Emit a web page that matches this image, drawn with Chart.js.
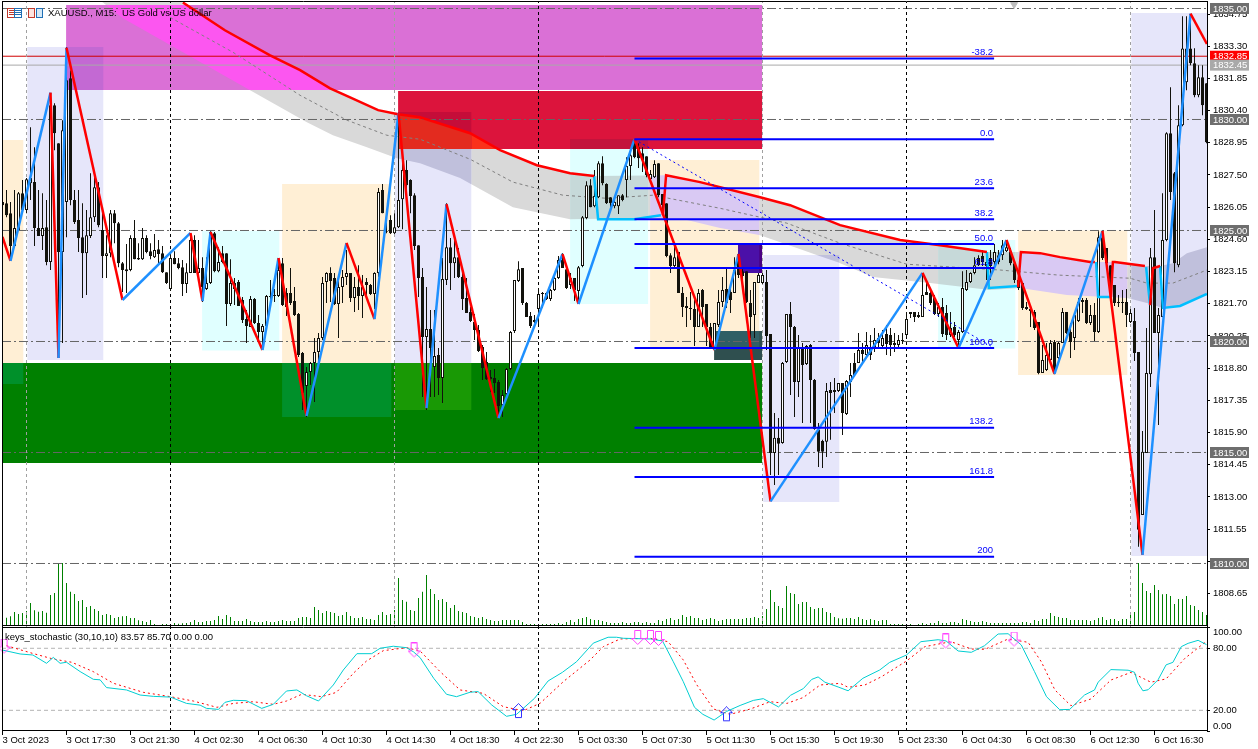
<!DOCTYPE html>
<html><head><meta charset="utf-8"><style>html,body{margin:0;padding:0;background:#fff}canvas{display:block}</style>
<script src="https://cdn.jsdelivr.net/npm/chart.js@4/dist/chart.umd.min.js"></script></head>
<body><canvas id="c" width="1258" height="749"></canvas>
<script>
const barOpen=[1826.28,1826.23,1825.78,1824.30,1825.02,1826.68,1825.92,1827.13,1827.18,1825.11,1824.75,1825.15,1823.58,1830.64,1828.93,1824.03,1826.28,1831.86,1826.37,1825.47,1824.70,1823.98,1824.75,1825.60,1826.95,1825.02,1823.85,1823.98,1825.78,1825.33,1823.53,1823.17,1823.22,1824.66,1823.76,1823.71,1824.66,1824.07,1823.80,1824.16,1823.98,1823.12,1822.36,1823.76,1823.53,1823.35,1822.59,1823.08,1824.57,1823.08,1823.31,1822.36,1822.63,1824.88,1823.17,1823.98,1823.98,1821.69,1822.63,1822.68,1821.87,1821.01,1820.65,1821.91,1820.83,1820.43,1820.70,1822.05,1822.05,1822.05,1823.53,1822.18,1822.18,1821.82,1821.24,1819.48,1817.99,1818.63,1819.03,1819.53,1820.16,1822.68,1823.08,1822.86,1821.69,1822.45,1822.90,1823.08,1821.96,1822.45,1822.05,1822.68,1822.54,1822.14,1823.08,1826.82,1824.93,1825.47,1824.88,1825.15,1826.41,1827.72,1827.27,1826.59,1824.34,1822.90,1820.20,1820.56,1818.85,1819.39,1818.36,1822.77,1824.25,1823.53,1823.80,1822.90,1821.96,1821.33,1820.88,1820.52,1819.75,1819.08,1818.40,1818.36,1818.18,1817.14,1817.64,1818.76,1820.47,1822.72,1823.31,1821.73,1821.15,1820.97,1821.46,1822.14,1822.18,1821.91,1822.32,1822.86,1823.67,1823.26,1822.54,1822.86,1822.27,1823.40,1825.56,1827.04,1826.09,1826.50,1828.03,1827.09,1826.50,1826.09,1826.09,1826.59,1827.27,1827.90,1828.93,1828.75,1828.48,1828.35,1827.31,1827.40,1828.03,1826.64,1826.23,1823.89,1823.40,1824.03,1822.18,1821.60,1821.46,1821.46,1820.65,1822.32,1821.69,1820.65,1819.75,1820.74,1821.78,1822.36,1822.23,1822.18,1823.94,1823.17,1823.17,1821.73,1821.19,1822.63,1822.63,1822.68,1820.34,1814.98,1815.66,1815.43,1819.08,1821.24,1820.65,1818.18,1819.71,1818.99,1819.84,1818.27,1816.02,1815.52,1815.48,1817.82,1817.82,1817.77,1818.13,1816.73,1818.18,1819.03,1819.03,1819.62,1819.39,1819.75,1819.75,1820.16,1819.80,1820.34,1820.29,1819.93,1819.84,1820.07,1820.29,1821.33,1821.33,1821.19,1821.10,1822.23,1822.18,1821.96,1821.24,1821.55,1821.28,1820.29,1820.65,1820.07,1820.43,1822.32,1822.68,1823.08,1823.76,1823.85,1823.40,1823.76,1823.58,1823.89,1823.89,1824.07,1824.07,1823.53,1822.77,1822.63,1821.55,1821.46,1821.33,1820.88,1818.58,1818.72,1819.17,1819.98,1819.26,1819.93,1821.33,1820.43,1820.16,1820.92,1821.87,1821.87,1820.83,1821.19,1820.43,1824.70,1824.21,1823.44,1822.54,1821.73,1821.78,1821.78,1820.88,1820.92,1819.53,1812.19,1814.98,1818.53,1823.80,1820.38,1821.10,1824.57,1829.38,1827.58,1823.44,1829.74,1831.68,1833.20,1832.53,1831.09,1831.90,1831.63];
const barHigh=[1826.82,1826.82,1826.28,1826.82,1826.73,1827.27,1827.36,1829.65,1828.75,1826.82,1826.68,1826.37,1830.73,1830.73,1828.93,1829.97,1833.25,1832.21,1826.82,1826.82,1826.23,1825.92,1827.58,1827.58,1827.18,1825.92,1824.79,1825.92,1825.92,1825.38,1823.58,1824.39,1824.79,1825.47,1824.43,1825.11,1824.79,1824.43,1824.84,1824.57,1824.30,1823.12,1823.98,1824.07,1823.76,1823.67,1823.53,1824.84,1824.79,1824.57,1823.80,1823.80,1824.97,1824.93,1824.25,1824.30,1823.98,1823.71,1822.86,1822.77,1822.00,1821.42,1822.05,1821.96,1821.19,1820.79,1822.09,1822.77,1822.36,1823.76,1823.76,1822.41,1823.31,1822.45,1821.28,1819.53,1818.85,1819.08,1820.16,1820.38,1822.90,1823.12,1823.35,1823.08,1822.90,1823.22,1824.12,1823.08,1822.90,1823.44,1822.99,1822.86,1822.59,1823.12,1826.91,1827.09,1825.78,1825.69,1825.78,1830.28,1828.17,1828.17,1827.31,1826.68,1824.34,1823.31,1822.45,1821.42,1821.42,1819.71,1823.76,1826.23,1824.66,1824.57,1824.21,1823.08,1822.86,1821.55,1821.24,1820.74,1819.84,1819.53,1818.72,1818.76,1818.27,1817.82,1818.81,1820.47,1822.77,1823.62,1823.31,1821.78,1821.33,1821.19,1822.41,1822.23,1822.23,1822.36,1823.08,1823.85,1823.98,1823.35,1823.08,1822.86,1823.40,1825.65,1827.22,1827.31,1827.72,1828.12,1828.35,1827.13,1826.50,1826.50,1826.59,1826.64,1828.30,1828.62,1829.11,1828.93,1828.75,1828.35,1827.72,1828.17,1828.03,1826.64,1826.23,1823.98,1824.43,1824.03,1822.45,1822.00,1822.23,1821.87,1822.36,1822.36,1821.69,1820.83,1820.83,1822.32,1822.90,1823.31,1822.63,1823.80,1823.94,1823.26,1823.17,1822.32,1822.68,1823.08,1823.08,1823.22,1820.34,1816.78,1816.55,1819.08,1821.24,1821.78,1820.70,1820.29,1819.93,1819.84,1819.89,1818.31,1816.33,1815.57,1818.13,1818.18,1818.36,1818.13,1818.13,1818.27,1819.03,1819.48,1820.38,1819.93,1820.43,1820.29,1820.61,1820.38,1820.52,1820.74,1820.61,1820.38,1820.29,1820.38,1821.33,1821.33,1821.33,1821.33,1823.08,1822.63,1822.32,1822.09,1821.73,1821.96,1821.64,1821.33,1820.88,1820.52,1823.17,1823.22,1823.12,1823.80,1823.89,1824.12,1823.85,1824.12,1824.39,1824.12,1824.57,1824.57,1824.21,1823.58,1823.22,1822.63,1821.78,1821.64,1821.42,1820.88,1819.84,1819.93,1820.07,1820.07,1819.98,1821.51,1821.33,1820.83,1821.28,1821.96,1821.96,1821.96,1821.64,1821.73,1824.97,1824.97,1824.21,1823.44,1822.54,1822.09,1822.32,1822.36,1821.46,1821.51,1819.53,1815.97,1820.61,1824.21,1825.92,1821.51,1826.68,1829.43,1831.45,1827.63,1830.64,1834.65,1834.65,1834.74,1833.21,1832.44,1832.44,1831.63];
const barLow=[1825.69,1825.60,1823.80,1824.30,1825.02,1825.92,1825.78,1826.37,1824.30,1824.75,1824.12,1823.44,1823.22,1828.62,1819.26,1819.93,1824.70,1826.14,1825.29,1824.03,1821.96,1822.09,1824.66,1825.38,1825.15,1822.86,1822.86,1823.80,1824.43,1823.35,1822.23,1822.18,1823.17,1823.71,1823.67,1823.67,1823.98,1823.71,1823.76,1823.48,1823.08,1822.59,1822.27,1823.48,1823.26,1822.05,1822.18,1823.08,1823.08,1823.03,1821.78,1822.32,1822.59,1823.12,1823.12,1823.53,1820.70,1821.60,1821.64,1821.60,1820.83,1819.93,1820.65,1820.79,1820.07,1819.62,1820.65,1821.87,1821.78,1822.00,1821.60,1821.15,1821.64,1821.15,1819.30,1816.92,1816.60,1818.04,1817.28,1819.03,1820.07,1821.73,1821.78,1821.64,1820.16,1821.73,1822.54,1821.78,1821.33,1821.42,1821.06,1822.09,1822.09,1821.46,1822.90,1825.78,1824.88,1824.84,1824.84,1825.11,1825.06,1826.59,1825.78,1824.12,1822.00,1817.50,1816.92,1817.50,1817.50,1817.59,1817.23,1822.54,1822.32,1822.86,1822.86,1821.42,1821.28,1820.88,1820.07,1819.53,1818.27,1818.27,1817.73,1817.68,1816.69,1816.60,1817.59,1818.72,1820.38,1822.68,1821.64,1821.10,1820.61,1820.83,1820.79,1821.51,1821.87,1821.82,1822.27,1822.81,1823.31,1822.36,1822.36,1821.82,1821.73,1823.35,1825.51,1826.05,1826.05,1826.46,1827.04,1826.19,1826.05,1826.00,1825.74,1826.32,1826.50,1827.27,1828.26,1827.81,1827.63,1827.40,1827.27,1827.36,1826.50,1825.69,1823.80,1823.08,1823.35,1822.18,1821.10,1820.65,1820.97,1819.80,1820.65,1820.65,1819.80,1819.71,1819.62,1820.65,1821.55,1821.51,1821.28,1822.18,1822.86,1822.63,1821.73,1820.16,1820.16,1822.63,1822.59,1819.62,1813.99,1813.54,1813.99,1815.39,1819.03,1817.59,1816.60,1817.50,1816.33,1818.94,1816.33,1816.02,1814.35,1814.30,1814.80,1815.57,1816.78,1817.73,1815.79,1816.69,1817.50,1818.45,1819.03,1819.03,1819.35,1819.17,1819.53,1819.75,1819.75,1819.39,1819.35,1819.53,1819.75,1819.89,1820.20,1821.06,1820.88,1821.06,1821.10,1822.09,1821.64,1821.19,1821.10,1820.20,1820.07,1820.20,1820.20,1819.71,1820.38,1822.27,1822.63,1823.03,1823.40,1823.40,1822.77,1822.77,1823.44,1823.48,1823.67,1824.03,1823.44,1822.63,1822.32,1821.42,1821.42,1820.65,1820.52,1818.53,1818.58,1818.67,1819.08,1818.53,1819.21,1819.93,1820.34,1819.26,1819.62,1820.88,1821.28,1820.79,1820.74,1820.02,1820.38,1823.67,1823.44,1822.00,1821.60,1821.55,1821.28,1820.65,1820.83,1819.12,1810.75,1812.19,1814.98,1817.95,1820.38,1816.24,1821.10,1824.52,1826.37,1823.12,1823.35,1829.70,1831.32,1832.44,1831.00,1831.00,1830.19,1828.93];
const barClose=[1826.14,1825.69,1824.30,1825.11,1826.68,1825.92,1827.31,1827.36,1825.11,1824.75,1825.11,1823.58,1830.64,1829.38,1824.03,1829.52,1831.77,1826.37,1825.38,1824.66,1823.98,1824.79,1825.60,1826.95,1825.24,1823.85,1823.98,1825.78,1825.33,1823.53,1823.22,1823.26,1824.66,1823.71,1823.69,1824.66,1824.03,1823.85,1824.12,1823.94,1823.12,1822.63,1823.76,1823.48,1823.31,1822.59,1823.12,1824.57,1823.08,1823.31,1822.45,1822.63,1824.93,1823.17,1823.58,1823.58,1821.69,1822.63,1822.36,1821.60,1820.97,1820.70,1821.91,1820.83,1820.43,1820.70,1822.05,1822.00,1822.09,1823.22,1821.64,1821.55,1821.73,1821.19,1819.39,1817.68,1818.63,1819.03,1819.53,1820.16,1822.63,1823.08,1822.72,1821.69,1822.45,1822.90,1823.08,1821.96,1822.45,1822.05,1822.45,1822.54,1822.14,1823.08,1826.73,1825.78,1824.97,1824.88,1825.15,1826.37,1827.72,1827.04,1826.55,1824.30,1822.86,1820.20,1820.56,1819.71,1819.35,1818.36,1822.81,1824.25,1823.53,1823.80,1822.90,1821.91,1821.28,1820.92,1820.52,1819.57,1818.81,1818.31,1818.31,1818.13,1817.10,1817.59,1818.76,1820.43,1822.77,1823.26,1821.73,1821.10,1820.70,1820.88,1822.14,1822.18,1821.91,1822.32,1822.86,1823.67,1823.31,1822.41,1822.86,1822.32,1823.35,1825.60,1827.04,1826.05,1826.55,1828.03,1827.13,1826.23,1826.23,1826.28,1826.59,1826.37,1827.90,1828.39,1828.30,1828.26,1828.17,1827.49,1827.54,1827.99,1826.59,1826.14,1823.85,1823.40,1823.80,1822.18,1821.55,1821.51,1821.51,1820.65,1822.18,1821.55,1820.65,1819.75,1820.83,1821.78,1822.32,1821.73,1821.87,1823.22,1822.99,1822.95,1821.78,1821.10,1822.68,1822.99,1822.99,1820.25,1814.98,1815.66,1815.39,1819.03,1821.24,1820.65,1818.18,1819.75,1818.94,1819.80,1818.27,1816.06,1815.03,1815.03,1817.77,1817.68,1817.73,1818.13,1816.78,1818.22,1818.49,1818.49,1819.62,1819.44,1819.84,1819.39,1820.07,1819.93,1820.16,1819.89,1819.84,1819.84,1820.07,1820.02,1821.01,1821.24,1821.10,1821.10,1822.09,1822.09,1821.73,1821.24,1821.55,1820.34,1820.29,1820.61,1820.29,1820.43,1822.41,1822.68,1823.08,1823.44,1823.44,1823.58,1823.58,1823.40,1824.03,1823.58,1824.34,1824.25,1823.53,1822.77,1822.41,1821.51,1821.46,1821.37,1820.61,1818.58,1819.17,1819.39,1819.93,1818.58,1819.93,1821.33,1820.38,1819.98,1821.19,1821.78,1821.78,1820.83,1821.19,1820.43,1824.70,1823.76,1823.53,1822.54,1821.73,1821.78,1821.73,1821.19,1821.28,1819.48,1811.52,1815.03,1818.58,1823.80,1820.38,1821.19,1824.57,1829.38,1826.73,1823.53,1829.74,1833.20,1833.20,1832.53,1831.09,1831.90,1830.64,1828.98];
const volume=[30,22,26,39,33,36,42,66,44,40,42,37,90,96,186,186,126,100,93,72,75,54,57,48,42,30,33,30,21,24,26,27,21,21,14,12,9,15,3,0,3,3,3,6,4,5,6,9,15,9,9,12,12,15,27,18,30,24,12,12,12,18,12,9,9,9,12,9,9,12,15,12,12,12,21,24,24,21,54,45,36,42,39,36,27,30,39,27,21,21,24,18,18,15,30,39,30,33,45,141,75,70,45,42,81,100,150,108,93,75,78,69,51,60,42,39,36,27,24,21,24,18,15,12,12,15,15,15,15,15,9,3,3,3,3,3,3,3,3,6,3,9,15,9,18,21,24,18,15,15,12,9,6,6,6,9,6,6,9,9,6,9,6,6,15,12,18,21,15,18,30,24,27,21,21,15,18,21,18,12,15,18,18,18,18,18,21,21,24,21,27,48,105,69,57,51,117,96,93,63,69,69,54,48,51,51,39,36,24,20,19,21,21,18,24,18,15,18,15,12,15,15,3,3,3,3,3,3,0,3,6,3,6,6,12,6,6,9,9,6,18,15,12,9,9,12,9,6,6,6,6,6,6,6,6,9,9,6,15,12,18,18,36,27,24,21,21,15,15,15,15,15,12,15,21,24,15,18,18,12,18,18,36,39,186,126,102,96,120,105,92,93,87,63,78,78,87,60,57,45,39,30];
const zigzagBar=[0,2,12,14,16,30,47,50,52,65,69,76,86,93,99,106,111,124,140,144,158,178,184,192,230,239,251,263,275,285,297,301.1];
const zigzagPrice=[1824.71,1823.63,1831.21,1819.26,1833.23,1821.87,1824.89,1821.82,1824.93,1819.62,1823.76,1816.64,1824.44,1821.01,1830.29,1817.0,1826.19,1816.55,1823.94,1821.69,1829.12,1819.62,1823.94,1812.8,1823.09,1819.71,1824.57,1818.54,1824.98,1810.39,1834.77,1833.4];
const bandUpperBar=[24.4,45.1,55.6,66.9,74.4,81.9,86.9,93.9,98.9,104.4,116.9,124.4,133.6,141.9,147.9,165.9,174.4,189.4,196.9,209.4,224.4,234.4,246.1,254.6,259.4,264.4,271.9,278.1,285.6,289.4,292.6,296.1,301.1];
const bandUpperPrice=[1838.07,1835.27,1834.02,1832.89,1832.22,1831.40,1831.0,1830.42,1830.24,1830.10,1829.38,1828.62,1827.94,1827.58,1827.45,1827.49,1827.18,1826.5,1826.14,1825.24,1824.57,1824.34,1824.03,1824.03,1823.98,1823.8,1823.58,1823.58,1823.4,1823.4,1823.53,1823.98,1824.25];
const bandLowerBar=[24.4,30.1,61.9,76.1,82.6,91.1,98.6,104.4,114.4,127.6,141.9,161.9,171.1,179.4,189.4,198.6,209.4,217.6,231.9,246.9,254.4,266.1,281.1,286.1,290.1,294.4,301.1];
const bandLowerPrice=[1835.37,1834.56,1831.32,1829.88,1829.29,1828.75,1828.26,1828.03,1827.36,1826.05,1825.51,1825.56,1825.47,1825.11,1824.79,1824.21,1823.53,1822.9,1822.63,1822.32,1822.41,1822.09,1821.96,1821.73,1821.51,1821.6,1822.14];
const midBar=[41.9,57.6,74.4,86.1,96.1,104.4,116.9,127.6,140.1,151.1,162.6,179.4,196.1,209.4,226.1,249.4,264.1,281.9,286.1,292.6,301.1];
const midPrice=[1834.6,1833.03,1831.09,1829.97,1829.29,1829.11,1828.21,1827.18,1826.59,1826.45,1826.59,1826.0,1825.33,1824.43,1823.48,1823.22,1822.99,1822.85,1822.63,1822.63,1823.22];
const trendRedBar=[45.1,55.6,66.9,74.4,81.9,86.9,93.9,98.9,104.4,116.9,124.4,133.6,141.9,147.9,147.95,165.1,165.9,174.4,189.4,196.9,209.4,224.4,234.4,246.1,246.15,253.9,254.6,259.4,264.4,271.9,273.1,273.15,277.1,277.6,278.1,285.6,285.65,286.9,287.6,289.4];
const trendRedPrice=[1835.27,1834.02,1832.89,1832.22,1831.40,1831.0,1830.42,1830.24,1830.10,1829.38,1828.62,1827.94,1827.58,1827.45,null,1825.69,1827.49,1827.18,1826.5,1826.14,1825.24,1824.57,1824.34,1824.03,null,1822.45,1824.03,1823.98,1823.8,1823.58,1823.58,null,1822.0,1823.58,1823.58,1823.4,null,1821.64,1823.3,1823.4];
const trendCyanBar=[147.9,148.9,157.9,164.6,164.7,246.1,246.6,253.9,254,273.4,273.9,277.1,277.2,285.9,286.9,287,289.4,290.1,294.4,301.1];
const trendCyanPrice=[1827.45,1825.51,1825.51,1825.69,null,1824.03,1822.41,1822.5,null,1823.58,1822.0,1822.0,null,1823.35,1821.64,null,1823.4,1821.51,1821.6,1822.14];
const boxLeft=[6.2,98.1,190.2,282.2,-1,69.9,161.9,253.9,49.9,141.9,233.9,15.9,98.9,-1,183.9,177.9];
const boxRight=[25.2,117.2,209.2,302,5.2,97.2,189.2,281.2,69.2,161.4,253.2,189.9,189.9,189.9,189.9,189.9];
const boxTop=[1833.27,1830.34,1823.9,1834.8,1829.08,1827.1,1828.18,1825.0,1824.98,1829.12,1824.57,1835.16,1831.28,1819.03,1824.39,1820.47];
const boxBottom=[1819.17,1816.92,1812.77,1810.34,1818.09,1816.6,1819.71,1818.49,1819.6,1821.69,1819.68,1831.33,1828.67,1814.53,1823.09,1819.17];
const boxColor=['#E6E6FA','#E6E6FA','#E6E6FA','#E6E6FA','#FFEFD5','#FFEFD5','#FFEFD5','#FFEFD5','#E0FFFF','#E0FFFF','#E0FFFF','#DA70D6','#DC143C','#008000','#4B0082','#2F4F4F'];
const boxOverBand=[null,'#C0C0DC','#C0C0DC','#C0C0DC',null,null,'#D9C9F3','#D9C9F3',null,'#C6D9D9','#C6D9D9','#FC56F0','#FA321A',null,null,null];
const mixLeft=[15.9,98.9,141.9,-1,69.9,98.1,183.9,177.9];
const mixRight=[25.2,117.2,161.4,5.2,97.2,117.2,189.2,189.2];
const mixTop=[1833.27,1830.34,1829.12,1819.03,1819.03,1819.03,1824.39,1820.47];
const mixBottom=[1831.33,1828.67,1828.67,1818.09,1816.6,1816.92,1823.09,1819.71];
const mixColor=['#C369D3','#C50D39','#C3143C','#00902A','#00902A','#199905','#4B10A8','#2F5F65'];
const mixOverBand=[null,'#E32B1F',null,null,null,null,null,null];
const fibLevels=['-38.2','0.0','23.6','38.2','50.0','61.8','100.0','138.2','161.8','200'];
const fibPrices=[1832.75,1829.11,1826.90,1825.51,1824.39,1823.31,1819.71,1816.11,1813.90,1810.30];
const fibStartBar=158, fibEndBar=247.9;
const roundLevels=[1835,1830,1825,1820,1815,1810];
const bidPrice=1832.85, askPrice=1832.45;
const priceTicks=[1834.75,1833.30,1831.85,1830.40,1828.95,1827.50,1826.05,1824.60,1823.15,1821.70,1820.25,1818.80,1817.35,1815.90,1814.45,1813.00,1811.55,1810.10,1808.65];
const timeTickBars=[0,16,32,48,64,80,96,112,128,144,160,176,192,208,224,240,256,272,288];
const timeTickLabels=['3 Oct 2023','3 Oct 17:30','3 Oct 21:30','4 Oct 02:30','4 Oct 06:30','4 Oct 10:30','4 Oct 14:30','4 Oct 18:30','4 Oct 22:30','5 Oct 03:30','5 Oct 07:30','5 Oct 11:30','5 Oct 15:30','5 Oct 19:30','5 Oct 23:30','6 Oct 04:30','6 Oct 08:30','6 Oct 12:30','6 Oct 16:30'];
const periodBars=[6,98,190,282];
const dayBars=[42,134,226];
const stochBar=[0,4.4,7.6,11,12.7,14.4,16,19.4,22.7,24.4,26,31,34.4,37.7,42,46,49.4,51,54,55.6,57.7,61,64.8,67.7,71,73.6,76,79,82.7,85.2,88.6,92.3,94.4,97.7,101,102.7,104.4,107.8,111,113.5,116.9,118.9,122.3,126,128.5,133,136.4,140,143.5,147.7,151.4,153.5,155.2,162,165,167.7,170.2,173,175.1,177.9,181,184.4,187.7,190.2,194,197,200.2,202.3,203.9,205.6,208.9,211.4,215.1,219.3,221.8,226,229.6,233.9,235.9,238.9,242.2,245.5,248.9,251.4,254.7,258,261,264.3,266.8,270.5,273,273.9,277.1,281.4,283,283.9,285.1,286.4,288.9,290.9,292.6,294.7,296.4,298.9,301];
const stochValue=[78.3,74.5,73.5,65.5,71.2,65.5,66.5,57.5,50,49.5,42,39.7,34.8,33.5,32.8,26.7,25,21.9,20.9,27.7,29.7,29.3,21.9,25.8,38.7,39.7,34.1,29,44.5,59,74.8,74.8,80,82,80.6,76.7,71,51,35.5,33.2,37.5,38.1,25.2,14.2,16.1,31.6,48.4,56.8,67,85,90.7,90.7,89.7,89,87.1,67,47.7,22.9,16.1,10.6,18.9,24.7,29.6,31.3,23.3,34.5,41,49.9,52.3,47.2,42.6,38.9,51,59,66.4,73.5,86.4,88.3,87.1,77.4,76.1,82.5,93.8,94.1,83.2,57.4,33.2,20.6,20.9,34.8,39.7,47.2,59.4,58.8,56.8,46.2,38.9,39.9,49.6,64,66.4,81.6,84.8,87.7,83.57];
const signalBar=[1,7.6,12.7,17.3,22.7,27.7,35.2,42,47.7,53.6,57.7,62.7,67.7,71,74.8,79.8,83.5,87.7,91,95.2,101,104.4,109.4,114.4,120.2,125.2,130.2,134.4,140.2,146.9,150.2,154.4,161.9,166.4,170.2,173.6,177.8,181.9,186.9,191.9,196.1,200.2,204.4,209.4,211.4,215.6,219.7,226,230.6,237.1,242.2,245.6,251.4,256.4,259.7,263.1,267.1,272.1,277.1,282.1,287.1,290.9,295.6,300.6];
const signalValue=[82.5,75,69.6,66.5,57.4,46.2,37.4,33.2,29,22.9,26.7,28.3,25.8,29,35.5,33.2,37.4,55.8,67.7,77.7,80.6,77.4,57.4,39.7,36.4,23.5,19.6,26.8,47.7,68.7,81.6,89,89.7,86.4,68.7,44.5,21.2,16.1,21.2,28.3,26.7,32.4,44.5,46.1,42.3,44.5,52.4,67.7,81.6,86.4,79.3,79,89,85.8,67,39.7,24.5,31,49.3,56.7,47.2,50.4,70.3,85.7];
const stochLevels=[80,20];
const stochTicks=[100,80,20,0];
const sellArrowBar=[0.4,102.9,158.8,162,164,235.8,252.9];
const sellArrowValue=[81.7,77.9,90,90,89,86.6,88.5];
const buyArrowBar=[129,181];
const buyArrowValue=[19.3,16.2];
const scrollMarkerBar=[252.9], scrollMarkerPrice=[1835.18];

const xMin=-0.125, xMax=301.125, priceMax=1835.2928, priceMin=1807.1396;
const pts=(xs,ys)=>xs.map((x,i)=>({x,y:ys[i]}));
function clipPoly(poly,l,r,t,b){
  const cut=(p,inside,hit)=>{const o=[];p.forEach((c,i)=>{const n=p[(i+1)%p.length];const a=inside(c),d=inside(n);if(a)o.push(c);if(a!==d)o.push(hit(c,n));});return o;};
  const X=v=>(a,c)=>({x:v,y:a.y+(c.y-a.y)*(v-a.x)/(c.x-a.x)});
  const Y=v=>(a,c)=>({x:a.x+(c.x-a.x)*(v-a.y)/(c.y-a.y),y:v});
  let o=poly;
  o=cut(o,q=>q.x>=l,X(l));if(o.length)o=cut(o,q=>q.x<=r,X(r));if(o.length)o=cut(o,q=>q.y<=t,Y(t));if(o.length)o=cut(o,q=>q.y>=b,Y(b));
  return o;
}
function arrow(color,up){
  const c=document.createElement('canvas');c.width=13;c.height=16;const g=c.getContext('2d');
  g.translate(0.5,0.5);if(up){g.translate(0,14);g.scale(1,-1);}
  g.strokeStyle=color;g.lineWidth=1;
  g.beginPath();g.moveTo(3,0);g.lineTo(9,0);g.lineTo(9,8);g.lineTo(12,8);g.lineTo(6,14);g.lineTo(0,8);g.lineTo(3,8);g.closePath();g.stroke();
  return c;
}
const ds=[];
const shape=(data,color)=>ds.push({type:'line',data,yAxisID:'y',fill:'shape',backgroundColor:color,borderWidth:0,pointRadius:0,showLine:true});
const bandPoly=[...pts(bandUpperBar,bandUpperPrice),...pts(bandLowerBar,bandLowerPrice).reverse()];
shape(bandPoly,'#D9D9D9');
boxLeft.forEach((l,i)=>shape([{x:l,y:boxTop[i]},{x:boxRight[i],y:boxTop[i]},{x:boxRight[i],y:boxBottom[i]},{x:l,y:boxBottom[i]}],boxColor[i]));
boxLeft.forEach((l,i)=>{if(boxOverBand[i]){const o=clipPoly(bandPoly,l,boxRight[i],boxTop[i],boxBottom[i]);if(o.length)shape(o,boxOverBand[i]);}});
mixLeft.forEach((l,i)=>{shape([{x:l,y:mixTop[i]},{x:mixRight[i],y:mixTop[i]},{x:mixRight[i],y:mixBottom[i]},{x:l,y:mixBottom[i]}],mixColor[i]);
  if(mixOverBand[i]){const o=clipPoly(bandPoly,l,mixRight[i],mixTop[i],mixBottom[i]);if(o.length)shape(o,mixOverBand[i]);}});
const line=(data,color,width,dash,axis,extra)=>ds.push(Object.assign({type:'line',data,yAxisID:axis||'y',borderColor:color,borderWidth:width,borderDash:dash||[],pointRadius:0,fill:false,tension:0},extra||{}));
ds.push({type:'bar',data:volume.map((v,i)=>({x:i,y:v})),yAxisID:'yVol',backgroundColor:'#008000',borderWidth:0,grouped:false,barPercentage:1,maxBarThickness:1,inflateAmount:0});
roundLevels.forEach(p=>line([{x:xMin,y:p},{x:xMax,y:p}],'#666666',1,[9,3,2,3]));
line([{x:xMin,y:bidPrice},{x:xMax,y:bidPrice}],'#D00000',1);
line([{x:xMin,y:askPrice},{x:xMax,y:askPrice}],'#A9A9A9',1);
periodBars.forEach(b=>line([{x:b,y:priceMin},{x:b,y:priceMax}],'#A0A0A0',1,[3,3]));
dayBars.forEach(b=>{line([{x:b,y:priceMin},{x:b,y:priceMax}],'#000',1,[3,3]);line([{x:b,y:0},{x:b,y:100.6}],'#000',1,[3,3],'yStoch');});
line(pts(midBar,midPrice),'#808080',1,[3,3]);
ds.push({type:'bar',data:barHigh.map((h,i)=>({x:i,y:[barLow[i],h]})),yAxisID:'y',backgroundColor:'#12120c',borderWidth:0,grouped:false,barPercentage:1,maxBarThickness:1,inflateAmount:0});
ds.push({type:'bar',data:barOpen.map((o,i)=>({x:i,y:[o,barClose[i]]})),yAxisID:'y',backgroundColor:barOpen.map((o,i)=>barClose[i]>=o?'#fff':'#12120c'),borderColor:'#12120c',borderWidth:1,borderSkipped:false,grouped:false,barPercentage:1,maxBarThickness:3,inflateAmount:0});
line(pts(trendCyanBar,trendCyanPrice),'#00BFFF',2.5,[],'y',{spanGaps:false});
line(pts(trendRedBar,trendRedPrice),'#FF0000',2.5,[],'y',{spanGaps:false});
line(pts(zigzagBar,zigzagPrice),'#FF0000',2.5,[],'y',{segment:{borderColor:c=>c.p1.parsed.y>c.p0.parsed.y?'#1E90FF':'#FF0000'}});
line([{x:fibStartBar,y:fibPrices[1]},{x:fibEndBar,y:fibPrices[6]}],'#0000FF',1,[2,3]);
fibPrices.forEach(p=>line([{x:fibStartBar,y:p},{x:fibEndBar,y:p}],'#0000FF',2));
ds.push({type:'line',data:pts(scrollMarkerBar,scrollMarkerPrice),yAxisID:'y',showLine:false,pointStyle:'triangle',rotation:180,pointRadius:4,backgroundColor:'#BDBDBD',borderColor:'#BDBDBD',clip:false});
stochLevels.forEach(v=>line([{x:xMin,y:v},{x:xMax,y:v}],'#B4B4B4',1,[4,3],'yStoch'));
line(pts(signalBar,signalValue),'#FF0000',1,[2,3],'yStoch');
line(pts(stochBar,stochValue),'#00CED1',1,[],'yStoch');
ds.push({type:'line',data:pts(sellArrowBar,sellArrowValue),yAxisID:'yStoch',showLine:false,pointStyle:arrow('#FF40FF',false),pointRadius:5,clip:false});
ds.push({type:'line',data:pts(buyArrowBar,buyArrowValue),yAxisID:'yStoch',showLine:false,pointStyle:arrow('#3030FF',true),pointRadius:5,clip:false});
ds.forEach((d,i)=>{d.order=ds.length-i;});

const uiFont='"Liberation Sans"';
const overlay={id:'overlay',afterDraw(ch){
  const g=ch.ctx,y=ch.scales.y,s=ch.scales.yStoch,x=ch.scales.x;g.save();
  g.strokeStyle='#000';g.lineWidth=1;
  const hl=v=>{g.beginPath();g.moveTo(2,v);g.lineTo(1208,v);g.stroke();};
  [1.5,625.5,627.5,730.5].forEach(hl);
  [2.5,1207.5].forEach(v=>{g.beginPath();g.moveTo(v,1);g.lineTo(v,731);g.stroke();});
  g.strokeStyle='#c0392b';g.strokeRect(7.5,8.5,7,9);g.beginPath();for(const t of [10.5,12.5,14.5]){g.moveTo(9,t);g.lineTo(14,t);}g.stroke();
  g.strokeStyle='#1f6fb5';g.strokeRect(14.5,8.5,7,9);g.beginPath();for(const t of [10.5,12.5,14.5]){g.moveTo(15,t);g.lineTo(21,t);}g.stroke();
  g.strokeStyle='#c0392b';g.fillStyle='#fde4df';g.fillRect(28.5,8.5,6,9);g.strokeRect(28.5,8.5,6,9);
  g.strokeStyle='#1f6fb5';g.fillStyle='#d5e9f7';g.fillRect(36.5,8.5,6,9);g.strokeRect(36.5,8.5,6,9);
  g.textBaseline='middle';g.textAlign='left';g.fillStyle='#000';g.font='9.5px '+uiFont;
  g.fillText('XAUUSD., M15:  US Gold vs US dollar',48,13);
  g.fillText('keys_stochastic (30,10,10) 83.57 85.70 0.00 0.00',5,637);
  g.textAlign='right';g.fillStyle='#0000FF';
  fibLevels.forEach((t,i)=>g.fillText(t,x.getPixelForValue(fibEndBar)-1,y.getPixelForValue(fibPrices[i])-6));
  g.textAlign='left';
  const tag=(p,t,c)=>{const py=y.getPixelForValue(p);g.fillStyle=c;g.fillRect(1210,py-5.5,39,11);g.fillStyle='#fff';g.fillText(t,1213,py+.5);};
  roundLevels.forEach(p=>tag(p,p.toFixed(2),'#6E6E6E'));
  tag(bidPrice,bidPrice.toFixed(2),'#FF0000');tag(askPrice,askPrice.toFixed(2),'#A9A9A9');
  g.fillStyle='#000';
  g.fillText('100.00',1213,s.getPixelForValue(100)+5);
  g.fillText('0.00',1213,s.getPixelForValue(0)-5);
  g.restore();
}};
const tickFont={family:uiFont,size:9.5};
const fitRight=s=>{s.width=51;s.paddingTop=0;s.paddingBottom=0;};
new Chart(document.getElementById('c'),{type:'line',data:{datasets:ds},plugins:[overlay],options:{
  responsive:false,animation:false,devicePixelRatio:1,events:[],
  layout:{autoPadding:false,padding:{left:2,top:2,right:0,bottom:0}},
  plugins:{legend:{display:false},tooltip:{enabled:false},title:{display:false}},
  scales:{
    x:{type:'linear',position:'bottom',min:xMin,max:xMax,offset:false,
      afterFit:s=>{s.height=18;s.paddingLeft=0;s.paddingRight=0;},
      afterBuildTicks:s=>{s.ticks=timeTickBars.map(v=>({value:v}));},
      grid:{drawOnChartArea:false,tickLength:4,tickColor:'#000',offset:false},border:{display:false},
      ticks:{autoSkip:false,maxRotation:0,minRotation:0,align:'start',padding:0,color:'#000',font:tickFont,
        callback:v=>timeTickLabels[timeTickBars.indexOf(v)]}},
    y:{type:'linear',position:'right',stack:'panes',stackWeight:625,weight:1,min:priceMin,max:priceMax,
      afterFit:fitRight,
      afterBuildTicks:s=>{s.ticks=priceTicks.map(v=>({value:v}));},
      grid:{drawOnChartArea:false,tickLength:3,tickColor:'#000'},border:{display:false},
      ticks:{autoSkip:false,padding:3,color:'#000',font:tickFont,callback:v=>v.toFixed(2)}},
    yStoch:{type:'linear',position:'right',stack:'panes',stackWeight:104,weight:2,min:0,max:100.6,
      afterFit:fitRight,
      afterBuildTicks:s=>{s.ticks=stochTicks.map(v=>({value:v}));},
      grid:{drawOnChartArea:false,tickLength:3,tickColor:'#000'},border:{display:false},
      ticks:{autoSkip:false,padding:3,color:'#000',font:tickFont,callback:v=>(v===100||v===0)?'':v.toFixed(2)}},
    yVol:{type:'linear',position:'right',display:false,min:-318,max:1869}
  }
}});
</script></body></html>
